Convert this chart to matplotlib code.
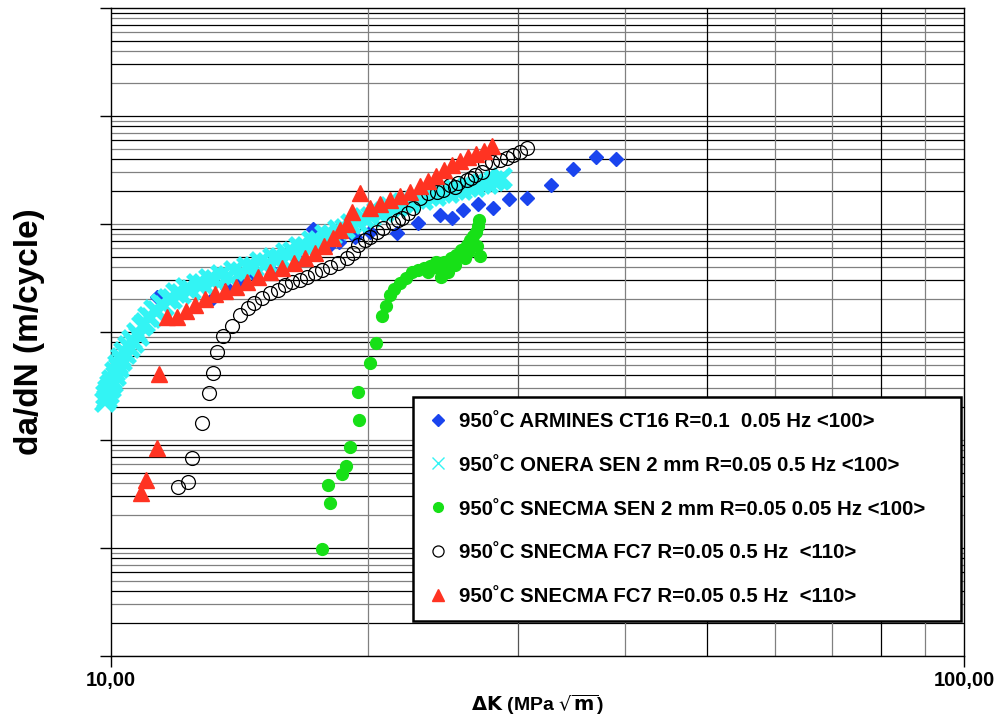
import numpy as np
import matplotlib.pyplot as plt
from matplotlib.lines import Line2D

plt.rcParams['font.family'] = ['Liberation Sans', 'DejaVu Sans']

# 950 C ARMINES CT16 R=0.1 0.05 Hz <100>
armines_dk = [11.32, 13.17, 13.68, 14.17, 14.75, 15.49, 16.52, 17.25, 17.97, 18.51,
              19.33, 20.12, 21.65, 22.91, 24.31, 25.11, 25.87, 26.94, 28.05, 29.29,
              30.75, 32.81, 34.81, 37.04, 39.10]
armines_dadn = [2.11e-7, 2.06e-7, 2.55e-7, 2.90e-7, 3.30e-7, 3.59e-7, 4.74e-7, 8.99e-7, 6.13e-7, 6.81e-7,
                7.58e-7, 8.43e-7, 8.26e-7, 1.02e-6, 1.21e-6, 1.14e-6, 1.35e-6, 1.53e-6, 1.41e-6, 1.70e-6,
                1.74e-6, 2.30e-6, 3.23e-6, 4.17e-6, 4.00e-6]

# 950 C ONERA SEN 2 mm R=0.05 0.5 Hz <100>
onera_dk = [9.84, 9.87, 9.89, 9.92, 9.95, 9.97, 10.00, 10.03, 10.05, 10.11,
            10.14, 10.19, 10.22, 10.27, 10.30, 10.36, 10.41, 10.47, 10.53, 10.58,
            10.64, 10.73, 10.79, 10.87, 10.96, 11.05, 11.14, 11.23, 11.32, 11.45,
            11.54, 11.66, 11.79, 11.92, 12.08, 12.24, 12.41, 12.61, 12.82, 13.03,
            13.24, 13.46, 13.72, 13.94, 14.20, 14.44, 14.71, 14.95, 15.24, 15.49,
            15.78, 16.04, 16.35, 16.61, 16.93, 17.21, 17.54, 17.82, 18.16, 18.46,
            18.81, 19.12, 19.48, 19.80, 20.18, 20.51, 20.90, 21.24, 21.65, 22.00,
            22.42, 22.79, 23.22, 23.60, 24.05, 24.44, 24.91, 25.32, 25.80, 26.22,
            26.72, 27.16, 27.67, 28.13, 28.59, 28.74]
onera_dadn = [2.25e-8, 2.61e-8, 2.40e-8, 2.90e-8, 2.67e-8, 3.23e-8, 3.03e-8, 3.59e-8, 3.37e-8, 4.26e-8,
              3.91e-8, 4.95e-8, 4.64e-8, 5.74e-8, 5.39e-8, 6.53e-8, 6.26e-8, 7.42e-8, 7.11e-8, 8.43e-8,
              7.91e-8, 9.79e-8, 9.18e-8, 1.14e-7, 1.21e-7, 1.38e-7, 1.35e-7, 1.60e-7, 1.56e-7, 1.82e-7,
              1.74e-7, 2.02e-7, 2.02e-7, 2.30e-7, 2.25e-7, 2.55e-7, 2.45e-7, 2.78e-7, 2.78e-7, 3.10e-7,
              3.03e-7, 3.37e-7, 3.30e-7, 3.67e-7, 3.59e-7, 4.00e-7, 4.00e-7, 4.45e-7, 4.35e-7, 4.84e-7,
              4.84e-7, 5.39e-7, 5.50e-7, 6.13e-7, 6.13e-7, 6.96e-7, 6.96e-7, 7.91e-7, 7.91e-7, 8.80e-7,
              8.99e-7, 1.00e-6, 1.02e-6, 1.14e-6, 1.16e-6, 1.29e-6, 1.29e-6, 1.44e-6, 1.44e-6, 1.56e-6,
              1.56e-6, 1.70e-6, 1.67e-6, 1.82e-6, 1.82e-6, 1.94e-6, 1.94e-6, 2.06e-6, 2.06e-6, 2.20e-6,
              2.20e-6, 2.35e-6, 2.35e-6, 2.50e-6, 2.55e-6, 2.67e-6]

# 950 C SNECMA SEN 2 mm R=0.05 0.05 Hz <100>
sen_dk = [17.68, 18.06, 17.97, 18.66, 18.86, 19.07, 19.54, 19.48, 20.12, 20.45,
          20.79, 21.01, 21.24, 21.47, 21.82, 22.18, 22.54, 22.91, 23.28, 23.53,
          23.66, 24.05, 24.18, 24.38, 24.57, 24.84, 25.04, 25.32, 25.38, 25.73,
          26.01, 26.15, 26.22, 26.36, 26.58, 26.79, 26.86, 26.94, 27.01, 27.08]
sen_dadn = [9.79e-10, 2.61e-9, 3.83e-9, 4.84e-9, 5.74e-9, 8.62e-9, 1.53e-8, 2.78e-8, 5.16e-8, 7.91e-8,
            1.41e-7, 1.74e-7, 2.20e-7, 2.50e-7, 2.84e-7, 3.16e-7, 3.59e-7, 3.75e-7, 3.91e-7, 3.59e-7,
            4.08e-7, 4.45e-7, 3.91e-7, 3.23e-7, 4.45e-7, 3.59e-7, 4.84e-7, 4.17e-7, 5.16e-7, 5.74e-7,
            4.84e-7, 6.39e-7, 5.50e-7, 7.11e-7, 7.74e-7, 8.43e-7, 6.26e-7, 9.58e-7, 1.09e-6, 5.06e-7]

# 950 C SNECMA FC7 R=0.05 0.5 Hz <110> (open circles)
fc7a_dk = [11.98, 12.31, 12.44, 12.79, 13.03, 13.17, 13.31, 13.53, 13.86, 14.17,
           14.48, 14.71, 15.03, 15.36, 15.70, 16.00, 16.30, 16.66, 16.98, 17.35,
           17.68, 18.06, 18.46, 18.91, 19.22, 19.48, 19.86, 20.12, 20.51, 20.84,
           21.41, 21.70, 21.94, 22.30, 22.60, 23.03, 23.53, 24.11, 24.51, 24.98,
           25.32, 25.52, 26.15, 26.43, 26.72, 27.23, 27.45, 27.97, 28.59, 29.13,
           29.61, 30.17, 30.75]
fc7a_dadn = [3.67e-9, 4.08e-9, 6.81e-9, 1.44e-8, 2.72e-8, 4.17e-8, 6.53e-8, 9.18e-8, 1.14e-7, 1.44e-7,
             1.67e-7, 1.86e-7, 2.06e-7, 2.30e-7, 2.45e-7, 2.72e-7, 2.90e-7, 3.03e-7, 3.23e-7, 3.52e-7,
             3.75e-7, 4.00e-7, 4.35e-7, 4.84e-7, 5.39e-7, 6.39e-7, 7.11e-7, 7.58e-7, 8.43e-7, 9.18e-7,
             1.02e-6, 1.09e-6, 1.14e-6, 1.26e-6, 1.41e-6, 1.74e-6, 1.94e-6, 1.98e-6, 2.06e-6, 2.30e-6,
             2.20e-6, 2.40e-6, 2.55e-6, 2.67e-6, 2.84e-6, 3.03e-6, 3.67e-6, 3.75e-6, 3.91e-6, 4.08e-6,
             4.35e-6, 4.64e-6, 5.06e-6]

# 950 C SNECMA FC7 R=0.05 0.5 Hz <110> (triangles)
fc7b_dk = [10.84, 10.99, 11.32, 11.38, 11.63, 11.95, 12.24, 12.55, 12.89, 13.24,
           13.60, 14.01, 14.44, 14.87, 15.36, 15.87, 16.39, 16.89, 17.35, 17.77,
           18.21, 18.56, 18.91, 19.17, 19.59, 20.12, 20.68, 21.24, 21.82, 22.42,
           23.03, 23.53, 24.05, 24.57, 25.11, 25.66, 26.22, 26.79, 27.38, 27.97]
fc7b_dadn = [3.23e-9, 4.26e-9, 8.43e-9, 4.08e-8, 1.38e-7, 1.38e-7, 1.56e-7, 1.78e-7, 2.02e-7, 2.25e-7,
             2.40e-7, 2.61e-7, 2.90e-7, 3.23e-7, 3.59e-7, 3.91e-7, 4.35e-7, 4.84e-7, 5.39e-7, 6.26e-7,
             7.42e-7, 8.80e-7, 1.00e-6, 1.29e-6, 1.94e-6, 1.41e-6, 1.53e-6, 1.67e-6, 1.82e-6, 1.98e-6,
             2.25e-6, 2.50e-6, 2.78e-6, 3.16e-6, 3.52e-6, 3.83e-6, 4.17e-6, 4.45e-6, 4.74e-6, 5.28e-6]

labels = ['950˚C ARMINES CT16 R=0.1  0.05 Hz <100>',
          '950˚C ONERA SEN 2 mm R=0.05 0.5 Hz <100>',
          '950˚C SNECMA SEN 2 mm R=0.05 0.05 Hz <100>',
          '950˚C SNECMA FC7 R=0.05 0.5 Hz  <110>',
          '950˚C SNECMA FC7 R=0.05 0.5 Hz  <110>']

blue = '#1a44ee'
cyan = '#33f4f4'
green = '#17e017'
red = '#ff3322'

fig = plt.figure(figsize=(9.94, 7.22), dpi=100)
ax = fig.add_axes([111 / 994, 66 / 722, 853 / 994, 648 / 722])
ax.set_xscale('log')
ax.set_yscale('log')
ax.set_xlim(10, 100)
ax.set_ylim(1e-10, 1e-4)

# grid lines, like the Excel one (mix of black and grey lines)
grid_cols = ['#808080', 'black']
i = 0
for dec in range(-10, -4):
    for m in range(1, 10):
        ax.axhline(m * 10.0 ** dec, color=grid_cols[i % 2], lw=0.9, zorder=0)
        i += 1
xcols = ['#808080', '#555555', '#808080', 'black', '#808080', '#808080', 'black', '#808080']
for m, c in zip(range(2, 10), xcols):
    ax.axvline(m * 10, color=c, lw=0.9, zorder=0)

ax.plot(armines_dk, armines_dadn, 'D', color=blue, ms=7, mec=blue, ls='none', zorder=3)
ax.plot(onera_dk, onera_dadn, 'x', color=cyan, ms=13, mew=4, ls='none', zorder=4, clip_on=False)
ax.plot(sen_dk, sen_dadn, 'o', color=green, ms=8.5, mec=green, ls='none', zorder=3)
ax.plot(fc7a_dk, fc7a_dadn, 'o', mfc='none', mec='black', ms=10, mew=0.9, ls='none', zorder=5)
ax.plot(fc7b_dk, fc7b_dadn, '^', color=red, ms=11, mec=red, ls='none', zorder=6)

ax.xaxis.set_major_locator(plt.FixedLocator([10, 100]))
ax.xaxis.set_major_formatter(plt.FixedFormatter(['10,00', '100,00']))
ax.xaxis.set_minor_locator(plt.NullLocator())
ax.yaxis.set_major_locator(plt.FixedLocator([10.0 ** k for k in range(-10, -3)]))
ax.yaxis.set_minor_locator(plt.NullLocator())
ax.yaxis.set_major_formatter(plt.NullFormatter())
ax.tick_params(axis='x', direction='out', length=8, width=1, labelsize=14.5, pad=3)
ax.tick_params(axis='y', direction='out', length=8, width=1)
for lab in ax.get_xticklabels():
    lab.set_fontweight('bold')
for sp in ax.spines.values():
    sp.set_linewidth(1.0)

ax.set_ylabel('da/dN (m/cycle)', fontsize=24, fontweight='bold', labelpad=36)
ax.set_xlabel(r'$\mathbf{\Delta K}$ (MPa $\sqrt{\mathbf{m}}$)', fontsize=14, fontweight='bold', labelpad=2)

handles = [Line2D([], [], marker='D', color=blue, ls='none', ms=6),
           Line2D([], [], marker='x', color=cyan, ls='none', ms=9, mew=1),
           Line2D([], [], marker='o', color=green, ls='none', ms=7),
           Line2D([], [], marker='o', mfc='none', mec='black', ls='none', ms=8, mew=0.9),
           Line2D([], [], marker='^', color=red, ls='none', ms=8)]
leg = ax.legend(handles, labels, loc='upper left', bbox_to_anchor=(0.354, 0.05, 0.642, 0.3497),
                mode='expand', borderaxespad=0, prop={'weight': 'bold', 'size': 14.7},
                frameon=True, fancybox=False, edgecolor='black', framealpha=1,
                labelspacing=1.22, handletextpad=0.55, borderpad=0.72, handlelength=1.0)
leg.get_frame().set_linewidth(1.8)
leg.set_zorder(10)

fig.savefig('out.png', dpi=100)
